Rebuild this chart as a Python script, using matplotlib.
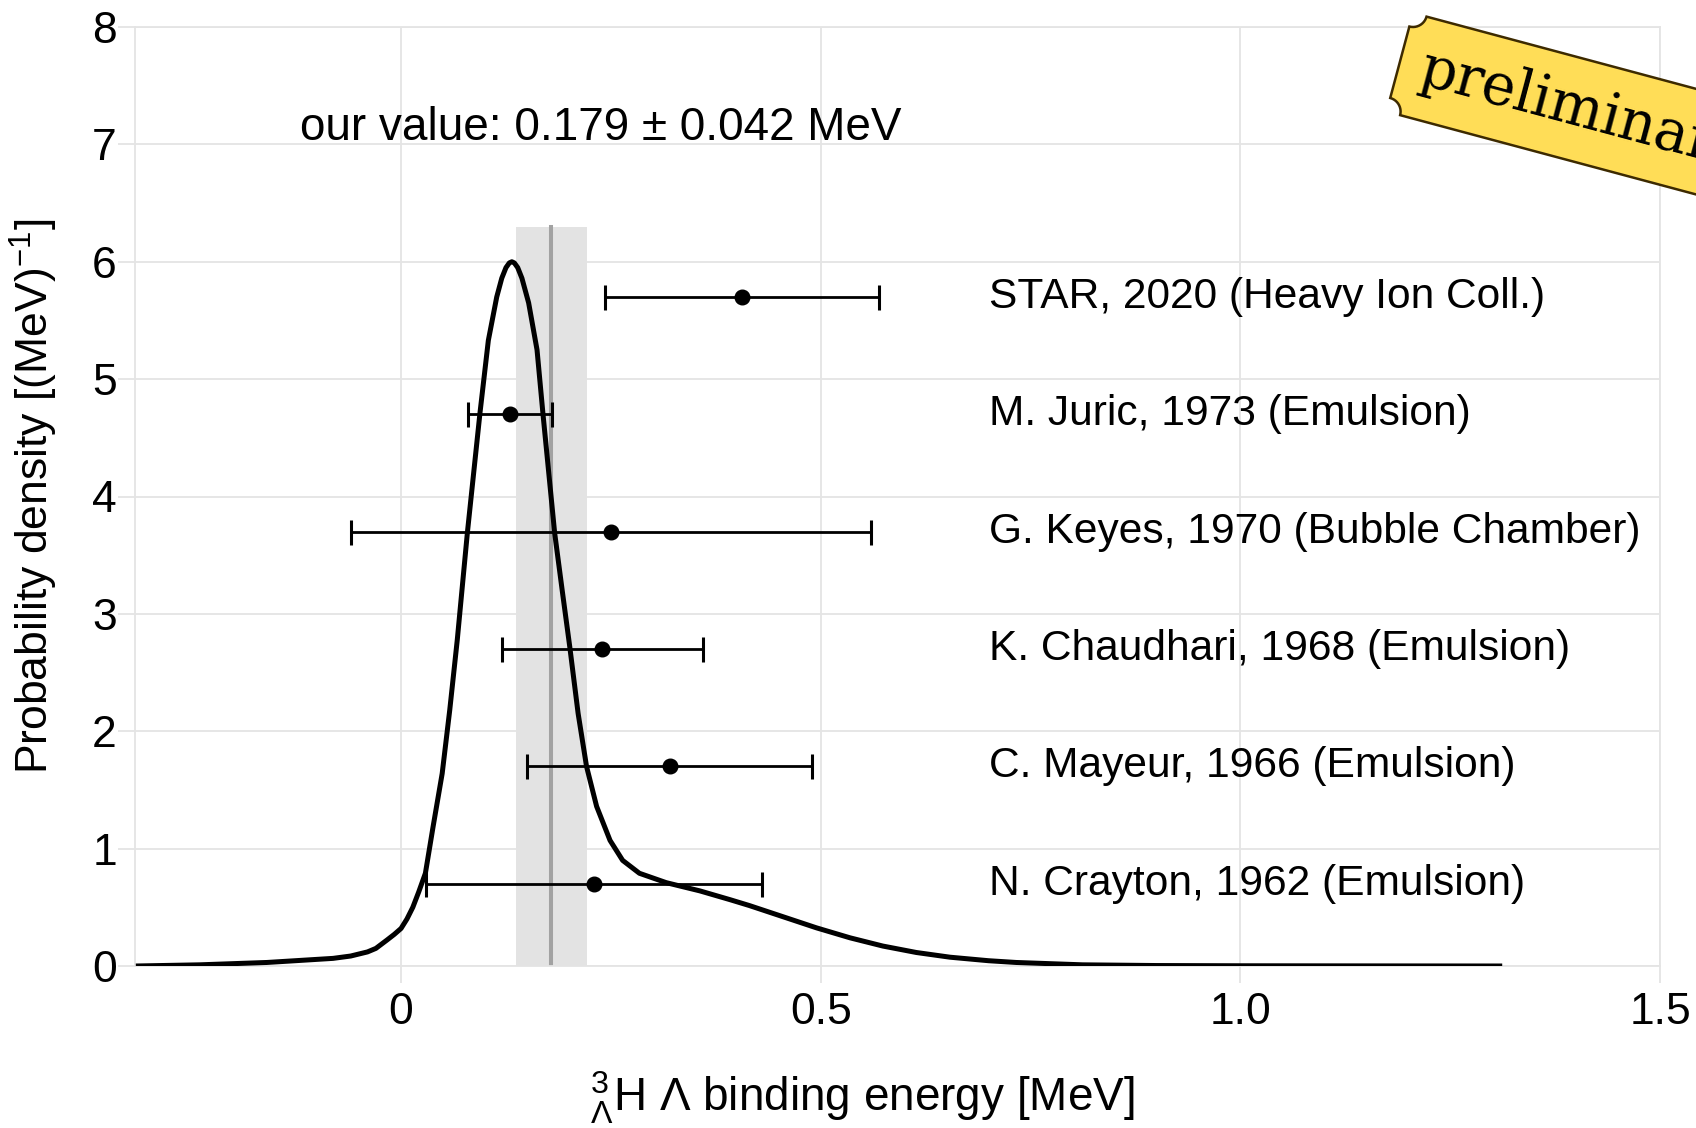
import numpy as np
import matplotlib
matplotlib.use('Agg')
from matplotlib import pyplot as plt
from matplotlib.path import Path
from matplotlib.patches import PathPatch
from matplotlib.transforms import Affine2D

plt.rcParams['font.family'] = ['Liberation Sans', 'DejaVu Sans']
plt.rcParams['mathtext.fontset'] = 'custom'
plt.rcParams['mathtext.rm'] = 'Liberation Sans'
plt.rcParams['mathtext.it'] = 'Liberation Sans:italic'

# probability density of the binding energy
CURVE_X = [-0.316, -0.24, -0.16, -0.081, -0.06, -0.040, -0.03, -0.017,
           -0.008, 0.0, 0.007, 0.014, 0.021, 0.029, 0.038, 0.049, 0.058,
           0.067, 0.079, 0.094, 0.104, 0.114, 0.120, 0.125, 0.129, 0.132,
           0.135, 0.139, 0.144, 0.152, 0.162, 0.169, 0.183, 0.192, 0.201,
           0.211, 0.221, 0.233, 0.249, 0.264, 0.284, 0.316, 0.356, 0.392,
           0.415, 0.455, 0.495, 0.535, 0.574, 0.614, 0.654, 0.70, 0.733,
           0.812, 0.90, 1.0, 1.15, 1.312]
CURVE_Y = [0.0, 0.01, 0.03, 0.065, 0.085, 0.12, 0.15, 0.22,
           0.27, 0.32, 0.40, 0.50, 0.63, 0.79, 1.18, 1.64, 2.18,
           2.78, 3.69, 4.71, 5.33, 5.70, 5.86, 5.95, 5.99, 6.00,
           5.99, 5.95, 5.86, 5.65, 5.25, 4.71, 3.69, 3.20, 2.72,
           2.15, 1.70, 1.36, 1.07, 0.90, 0.79, 0.71, 0.64, 0.565,
           0.515, 0.42, 0.325, 0.24, 0.17, 0.115, 0.075, 0.045, 0.03,
           0.01, 0.004, 0.002, 0.001, 0.0]

OUR_VALUE = 0.179
OUR_ERR = 0.042
BAND_TOP = 6.3

EXP_LABELS = ['STAR, 2020 (Heavy Ion Coll.)',
              'M. Juric, 1973 (Emulsion)',
              'G. Keyes, 1970 (Bubble Chamber)',
              'K. Chaudhari, 1968 (Emulsion)',
              'C. Mayeur, 1966 (Emulsion)',
              'N. Crayton, 1962 (Emulsion)']
EXP_VALUES = [0.406, 0.13, 0.25, 0.24, 0.32, 0.23]
EXP_ERRORS = [0.163, 0.05, 0.31, 0.12, 0.17, 0.20]
EXP_ROWS = [5.7, 4.7, 3.7, 2.7, 1.7, 0.7]

X_TICKS = [0, 0.5, 1.0, 1.5]
X_TICK_LABELS = ['0', '0.5', '1.0', '1.5']
Y_TICKS = list(range(9))

GRID = '#e4e4e4'

W, H = 1696, 1128
fig = plt.figure(figsize=(W / 100, H / 100), dpi=100)
ax = fig.add_axes([135 / W, 1 - 966 / H, 1525 / W, 939 / H])

ax.set_xlim(-0.317, 1.5)
ax.set_ylim(0, 8)
ax.set_axisbelow('line')
ax.grid(True, color=GRID, lw=1.3)
for s in ax.spines.values():
    s.set_color(GRID)
    s.set_linewidth(1.3)
ax.set_xticks(X_TICKS)
ax.set_xticklabels(X_TICK_LABELS)
ax.set_yticks(Y_TICKS)
ax.tick_params(length=12, color=GRID, width=1.3, labelsize=32)
ax.tick_params(axis='y', pad=1)
ax.tick_params(axis='x', pad=7)

# our value band + central line
ax.fill_between([OUR_VALUE - OUR_ERR, OUR_VALUE + OUR_ERR], 0, BAND_TOP,
                color='#e3e3e3', lw=0, zorder=1)
ax.plot([OUR_VALUE, OUR_VALUE], [0, BAND_TOP], color='#a2a2a2', lw=2.9,
        zorder=1.6)

ax.plot(CURVE_X, CURVE_Y, color='black', lw=3.6, zorder=3,
        solid_joinstyle='round', solid_capstyle='butt')

ax.errorbar(EXP_VALUES, EXP_ROWS, xerr=EXP_ERRORS, fmt='o', color='black',
            ms=10.5, elinewidth=2.0, capsize=9, capthick=2.2, zorder=4)
for lab, row in zip(EXP_LABELS, EXP_ROWS):
    ax.text(0.701, row, lab, fontsize=30.6, ha='left', va='center')

ax.text(-0.12, 7.14, 'our value: %.3f \u00b1 %.3f MeV' % (OUR_VALUE, OUR_ERR),
        fontsize=33, ha='left', va='center')

ax.set_xlabel('$^{3}_{\u039b}$H \u039b binding energy [MeV]', fontsize=33)
ax.xaxis.set_label_coords(0.477, -0.11)
ax.set_ylabel(r'Probability density [(MeV)$^{-1}$]', fontsize=32)
ax.yaxis.set_label_coords(-0.049, 0.5)

# "preliminary" ticket in the top right corner
sh, r, sw = 102, 14, 700
t = np.linspace(0, np.pi / 2, 12)
verts = [(sw, 0)]
verts += [(r * np.cos(a), -r * np.sin(a)) for a in t]
verts += [(r * np.sin(a), -sh + r * np.cos(a)) for a in t]
verts += [(sw, -sh), (sw, 0)]
tr = Affine2D().rotate_deg(-15).translate(1413, H - 13)
stamp = Path(tr.transform(np.array(verts)))
fig.patches.append(PathPatch(stamp, facecolor='#ffdd57', edgecolor='#3d2a00',
                             lw=1.8, transform=None, figure=fig))
tx, ty = tr.transform((22, -52))
fig.text(tx / W, ty / H, 'preliminary', family='DejaVu Serif', fontsize=41,
         rotation=-15, rotation_mode='anchor', ha='left', va='center')

plt.savefig('out.png', dpi=100)
